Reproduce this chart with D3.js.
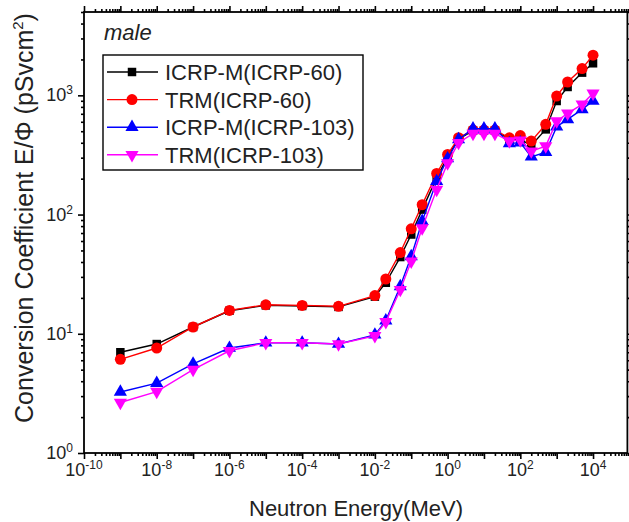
<!DOCTYPE html>
<html>
<head>
<meta charset="utf-8">
<script src="https://cdn.jsdelivr.net/npm/d3@7"></script>
<style>
  body { margin: 0; background: #fff; }
  svg { display: block; font-family: "Liberation Sans", Arial, sans-serif; }
  .axis path, .axis line { stroke: #000; stroke-width: 1.6; }
</style>
</head>
<body>
<svg id="chart" width="629" height="522"></svg>
<script>
// neutron energies (MeV)
const energy = [1e-9, 1e-8, 1e-7, 1e-6, 1e-5, 1e-4, 1e-3, 1e-2, 2e-2, 5e-2,
    0.1, 0.2, 0.5, 1, 2, 5, 10, 20, 50, 100, 200, 500, 1000, 2000, 5000, 10000];

// conversion coefficients (pSv cm2)
const icrpM60 = [7.0, 8.2, 11.4, 15.6, 17.3, 17.1, 16.8, 20.5, 26.8, 44, 68, 110, 203, 305,
    430, 505, 505, 505, 430, 427, 380, 518, 896, 1175, 1550, 1857];
const trm60 = [6.1, 7.6, 11.4, 15.7, 17.5, 17.3, 17.0, 20.9, 28.8, 48, 76, 121, 221, 319,
    441, 511, 511, 511, 440, 460, 413, 571, 986, 1294, 1676, 2170];
const icrpM103 = [3.25, 3.85, 5.6, 7.6, 8.4, 8.4, 8.2, 9.8, 12.9, 25, 44.6, 88, 190, 295,
    427, 526, 526, 526, 395, 401, 305, 334, 546, 629, 762, 896];
const trm103 = [2.65, 3.27, 5.0, 7.2, 8.4, 8.4, 8.2, 9.6, 12.6, 23.4, 40.5, 77, 162, 270,
    400, 477, 477, 477, 413, 420, 340, 375, 608, 706, 840, 1040];

const seriesNames = ["ICRP-M(ICRP-60)", "TRM(ICRP-60)", "ICRP-M(ICRP-103)", "TRM(ICRP-103)"];
const seriesValues = [icrpM60, trm60, icrpM103, trm103];
const seriesColors = ["#000000", "#ff0000", "#0000ff", "#ff00ff"];
const seriesSymbols = ["square", "circle", "triangle", "triangleDown"];

const xExponents = d3.range(-10, 6);        // decades on the x axis
const xLabelExponents = [-10, -8, -6, -4, -2, 0, 2, 4];
const yExponents = [0, 1, 2, 3];

const svg = d3.select("#chart");
const plotLeft = 84, plotRight = 629.4, plotTop = 12, plotBottom = 453;

const x = d3.scaleLog().domain([1e-10, 1e5]).range([plotLeft, plotRight]);
const y = d3.scaleLog().domain([1, 5000]).range([plotBottom, plotTop]);

// minor tick values
const xMinor = [];
xExponents.slice(0, -1).forEach(e => {
    for (let m = 2; m <= 9; m++) xMinor.push(m * Math.pow(10, e));
});
const yMinor = [];
yExponents.forEach(e => {
    for (let m = 2; m <= 9; m++) {
        const v = m * Math.pow(10, e);
        if (v <= 5000) yMinor.push(v);
    }
});
const xMajor = xExponents.map(e => Math.pow(10, e));
const yMajor = yExponents.map(e => Math.pow(10, e));

function drawAxis(axisFn, scale, values, size, transform) {
    const g = svg.append("g").attr("class", "axis").attr("transform", transform)
        .call(axisFn(scale).tickValues(values).tickSize(size).tickSizeOuter(0).tickFormat(""));
    g.select(".domain").remove();
    return g;
}

// bottom / top
drawAxis(d3.axisBottom, x, xMajor, 6, `translate(0,${plotBottom})`);
drawAxis(d3.axisBottom, x, xMinor, 3, `translate(0,${plotBottom})`);
drawAxis(d3.axisTop, x, xMajor, 6, `translate(0,${plotTop})`);
drawAxis(d3.axisTop, x, xMinor, 3, `translate(0,${plotTop})`);
// left / right
drawAxis(d3.axisLeft, y, yMajor, 6, `translate(${plotLeft},0)`);
drawAxis(d3.axisLeft, y, yMinor, 3, `translate(${plotLeft},0)`);
drawAxis(d3.axisLeft, y, yMajor, -6, `translate(${plotRight - 2},0)`);
drawAxis(d3.axisLeft, y, yMinor, -3, `translate(${plotRight - 2},0)`);

// frame
svg.append("rect")
    .attr("x", plotLeft).attr("y", plotTop)
    .attr("width", plotRight - 2 - plotLeft).attr("height", plotBottom - plotTop)
    .attr("fill", "none").attr("stroke", "#000").attr("stroke-width", 1.8);

// x tick labels
svg.append("g").selectAll("text")
    .data(xLabelExponents)
    .join("text")
    .attr("x", d => x(Math.pow(10, d)))
    .attr("y", plotBottom + 23)
    .attr("text-anchor", "middle")
    .attr("font-size", 18)
    .attr("fill", "#222")
    .each(function(d) {
        const t = d3.select(this);
        t.append("tspan").text("10");
        t.append("tspan").attr("dy", -7).attr("font-size", 12).text(d);
    });

// y tick labels
svg.append("g").selectAll("text")
    .data(yExponents)
    .join("text")
    .attr("x", plotLeft - 11)
    .attr("y", d => y(Math.pow(10, d)) + 6)
    .attr("text-anchor", "end")
    .attr("font-size", 18)
    .attr("fill", "#222")
    .each(function(d) {
        const t = d3.select(this);
        t.append("tspan").text("10");
        t.append("tspan").attr("dy", -7).attr("font-size", 12).text(d);
    });

// axis titles
svg.append("text")
    .attr("x", 356).attr("y", 516)
    .attr("text-anchor", "middle")
    .attr("font-size", 22)
    .attr("fill", "#222")
    .text("Neutron Energy(MeV)");

const yTitle = svg.append("text")
    .attr("transform", "translate(33,218) rotate(-90)")
    .attr("text-anchor", "middle")
    .attr("font-size", 25)
    .attr("fill", "#222");
yTitle.append("tspan").text("Conversion Coefficient E/Φ (pSvcm");
yTitle.append("tspan").attr("dy", -10).attr("font-size", 15).text("2");
yTitle.append("tspan").attr("dy", 10).text(")");

// panel label
svg.append("text")
    .attr("x", 104).attr("y", 40)
    .attr("font-size", 22)
    .attr("font-style", "italic")
    .attr("fill", "#222")
    .text("male");

function symbolPath(kind) {
    const sym = {
        square: d3.symbolSquare,
        circle: d3.symbolCircle,
        triangle: d3.symbolTriangle,
        triangleDown: d3.symbolTriangle
    }[kind];
    const size = { square: 72, circle: 95, triangle: 75, triangleDown: 75 }[kind];
    return d3.symbol().type(sym).size(size)();
}

const line = d3.line()
    .x(d => x(d[0]))
    .y(d => y(d[1]));

const plot = svg.append("g");
seriesValues.forEach((vals, i) => {
    const pts = energy.map((e, j) => [e, vals[j]]);
    const g = plot.append("g");
    g.append("path")
        .attr("d", line(pts))
        .attr("fill", "none")
        .attr("stroke", seriesColors[i])
        .attr("stroke-width", 1.4);
    g.selectAll("path.mark")
        .data(pts)
        .join("path")
        .attr("class", "mark")
        .attr("d", symbolPath(seriesSymbols[i]))
        .attr("transform", d => `translate(${x(d[0])},${y(d[1])})` +
            (seriesSymbols[i] === "triangleDown" ? " rotate(180)" : ""))
        .attr("fill", seriesColors[i]);
});

// legend
const legend = svg.append("g");
legend.append("rect")
    .attr("x", 103).attr("y", 55)
    .attr("width", 260).attr("height", 115)
    .attr("fill", "#fff").attr("stroke", "#000").attr("stroke-width", 1.4);
seriesNames.forEach((name, i) => {
    const cy = 72 + i * 27.6;
    legend.append("line")
        .attr("x1", 107).attr("x2", 158)
        .attr("y1", cy).attr("y2", cy)
        .attr("stroke", seriesColors[i]).attr("stroke-width", 1.4);
    legend.append("path")
        .attr("d", symbolPath(seriesSymbols[i]))
        .attr("transform", `translate(132,${cy})` +
            (seriesSymbols[i] === "triangleDown" ? " rotate(180)" : ""))
        .attr("fill", seriesColors[i]);
    legend.append("text")
        .attr("x", 165).attr("y", cy + 8)
        .attr("font-size", 22)
        .attr("fill", "#222")
        .text(name);
});
</script>
</body>
</html>
